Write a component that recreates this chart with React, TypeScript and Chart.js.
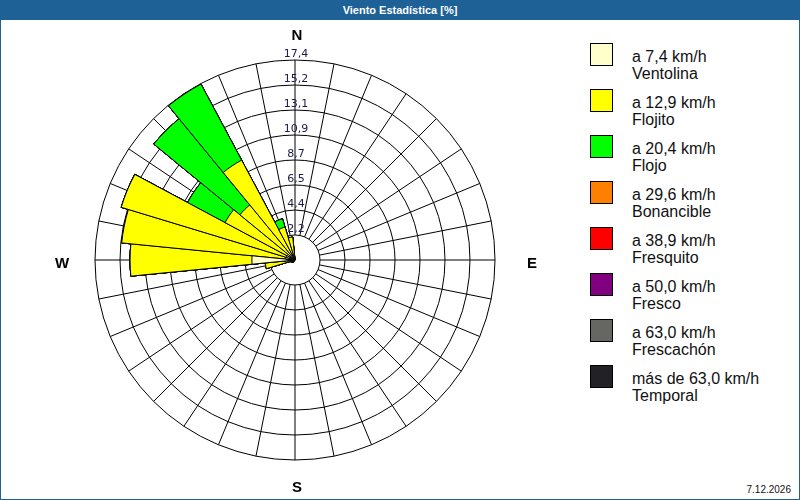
import { useEffect, useRef } from "react";
import { Chart, registerables } from "chart.js";

Chart.register(...registerables);

// 32 directions, clockwise from north
const DIRECTIONS = [
  "N", "NpE", "NNE", "NEpN", "NE", "NEpE", "ENE", "EpN",
  "E", "EpS", "ESE", "SEpE", "SE", "SEpS", "SSE", "SpE",
  "S", "SpO", "SSO", "SOpS", "SO", "SOpO", "OSO", "OpS",
  "O", "OpN", "ONO", "NOpO", "NO", "NOpN", "NNO", "NpO",
];

// frequency [%] per speed class and direction
const VENTOLINA = [
  0, 0, 0, 0, 0, 0, 0, 0, 0, 0, 0, 0, 0, 0, 0, 0,
  0, 0, 0, 0, 0.3, 0.3, 0.4, 0.6, 3.75, 0.8, 0.8, 0.6, 0.6, 0.6, 0.5, 0.4,
];
const FLOJITO = [
  0, 0, 0, 0, 0, 0, 0, 0, 0, 0, 0, 0, 0, 0, 0, 0,
  0, 0, 0, 0, 0, 0, 0, 2.0, 10.6, 14.35, 15.0, 6.3, 5.6, 9.25, 2.5, 1.6,
];
const FLOJO = [
  0, 0, 0, 0, 0, 0, 0, 0, 0, 0, 0, 0, 0, 0, 0, 0,
  0, 0, 0, 0, 0, 0, 0, 0, 0, 0, 0, 3.7, 9.7, 7.5, 0.75, 0,
];
const BONANCIBLE = [
  0, 0, 0, 0, 0, 0, 0, 0, 0, 0, 0, 0, 0, 0, 0, 0,
  0, 0, 0, 0, 0, 0, 0, 0, 0, 0, 0, 0, 0, 0, 0, 0,
];
const FRESQUITO = [
  0, 0, 0, 0, 0, 0, 0, 0, 0, 0, 0, 0, 0, 0, 0, 0,
  0, 0, 0, 0, 0, 0, 0, 0, 0, 0, 0, 0, 0, 0, 0, 0,
];
const FRESCO = [
  0, 0, 0, 0, 0, 0, 0, 0, 0, 0, 0, 0, 0, 0, 0, 0,
  0, 0, 0, 0, 0, 0, 0, 0, 0, 0, 0, 0, 0, 0, 0, 0,
];
const FRESCACHON = [
  0, 0, 0, 0, 0, 0, 0, 0, 0, 0, 0, 0, 0, 0, 0, 0,
  0, 0, 0, 0, 0, 0, 0, 0, 0, 0, 0, 0, 0, 0, 0, 0,
];
const TEMPORAL = [
  0, 0, 0, 0, 0, 0, 0, 0, 0, 0, 0, 0, 0, 0, 0, 0,
  0, 0, 0, 0, 0, 0, 0, 0, 0, 0, 0, 0, 0, 0, 0, 0,
];

const CLASS_RANGES = [
  "a 7,4 km/h", "a 12,9 km/h", "a 20,4 km/h", "a 29,6 km/h",
  "a 38,9 km/h", "a 50,0 km/h", "a 63,0 km/h", "más de 63,0 km/h",
];
const CLASS_NAMES = [
  "Ventolina", "Flojito", "Flojo", "Bonancible",
  "Fresquito", "Fresco", "Frescachón", "Temporal",
];
const CLASS_COLORS = [
  "#FFFFCC", "#FFFF00", "#00FF00", "#FF8000",
  "#FF0000", "#800080", "#666662", "#222226",
];
const SERIES = [VENTOLINA, FLOJITO, FLOJO, BONANCIBLE, FRESQUITO, FRESCO, FRESCACHON, TEMPORAL];

const R_MAX = 17.4;
const TICK_LABELS = ["2,2", "4,4", "6,5", "8,7", "10,9", "13,1", "15,2", "17,4"];
const COMPASS = ["N", "E", "S", "W"];

const BLUE = "#1d6196";

// rings, spokes and the text around the rose
const roseGrid = {
  id: "roseGrid",
  beforeDatasetsDraw(chart: any) {
    const s = chart.scales.r;
    const ctx = chart.ctx;
    const cx = s.xCenter;
    const cy = s.yCenter;
    const n = TICK_LABELS.length;
    ctx.save();
    ctx.strokeStyle = "#000";
    ctx.lineWidth = 1;
    for (let i = 0; i < n; i++) {
      const r = s.getDistanceFromCenterForValue((R_MAX * (i + 1)) / n);
      ctx.beginPath();
      ctx.arc(cx, cy, r, 0, Math.PI * 2);
      ctx.stroke();
    }
    const r1 = s.getDistanceFromCenterForValue(R_MAX / n);
    const r2 = s.getDistanceFromCenterForValue(R_MAX);
    for (let k = 0; k < DIRECTIONS.length; k++) {
      const a = (k * Math.PI * 2) / DIRECTIONS.length - Math.PI / 2;
      ctx.beginPath();
      ctx.moveTo(cx + r1 * Math.cos(a), cy + r1 * Math.sin(a));
      ctx.lineTo(cx + r2 * Math.cos(a), cy + r2 * Math.sin(a));
      ctx.stroke();
    }
    ctx.restore();
  },
  afterDatasetsDraw(chart: any) {
    const s = chart.scales.r;
    const ctx = chart.ctx;
    const cx = s.xCenter;
    const cy = s.yCenter;
    const n = TICK_LABELS.length;
    ctx.save();
    ctx.fillStyle = "#1b1b45";
    ctx.font = "11px 'DejaVu Sans'";
    ctx.textAlign = "center";
    ctx.textBaseline = "middle";
    TICK_LABELS.forEach((t, i) => {
      const r = s.getDistanceFromCenterForValue((R_MAX * (i + 1)) / n);
      ctx.fillText(t, cx + 1, cy - r - 6);
    });
    ctx.fillStyle = "#000";
    ctx.font = "bold 15px 'Liberation Sans'";
    const R = s.drawingArea;
    const pos = [
      [cx + 2, cy - R - 24],
      [cx + R + 37, cy + 4],
      [cx + 2, cy + R + 28],
      [cx - R - 33, cy + 4],
    ];
    COMPASS.forEach((c, i) => ctx.fillText(c, pos[i][0], pos[i][1]));
    ctx.restore();
  },
};

function RoseChart() {
  const canvasRef = useRef<HTMLCanvasElement>(null);

  useEffect(() => {
    if (!canvasRef.current) return;

    // stacked totals; first class drawn on top
    const cumulative: number[][] = [];
    SERIES.forEach((ser, i) => {
      cumulative.push(ser.map((v, k) => v + (i > 0 ? cumulative[i - 1][k] : 0)));
    });

    const chart = new Chart(canvasRef.current, {
      type: "polarArea",
      data: {
        labels: DIRECTIONS,
        datasets: cumulative.map((data, i) => ({
          label: CLASS_NAMES[i],
          data,
          backgroundColor: CLASS_COLORS[i],
          borderColor: "#000",
          borderWidth: 1,
        })),
      },
      options: {
        animation: false,
        responsive: false,
        maintainAspectRatio: false,
        layout: { padding: { left: 54, right: 56, top: 38, bottom: 38 } },
        plugins: {
          legend: { display: false },
          tooltip: { enabled: false },
        },
        scales: {
          r: {
            min: 0,
            max: R_MAX,
            startAngle: -180 / DIRECTIONS.length,
            ticks: { display: false },
            grid: { display: false },
            angleLines: { display: false },
            pointLabels: { display: false },
          },
        },
      },
      plugins: [roseGrid],
    });

    return () => chart.destroy();
  }, []);

  return (
    <canvas
      ref={canvasRef}
      width={510}
      height={476}
      style={{ position: "absolute", left: 40, top: 22, width: 510, height: 476 }}
    />
  );
}

export default function App() {
  return (
    <div
      style={{
        position: "fixed",
        left: 0,
        top: 0,
        width: 800,
        height: 500,
        boxSizing: "border-box",
        border: `1px solid ${BLUE}`,
        borderTop: "none",
        background: "#fff",
        fontFamily: "'Liberation Sans', sans-serif",
      }}
    >
      <div
        style={{
          height: 20,
          background: BLUE,
          color: "#fff",
          textAlign: "center",
          fontFamily: "'Liberation Sans Narrow', 'Liberation Sans', sans-serif",
          fontWeight: "bold",
          fontSize: 11,
          lineHeight: "20px",
          margin: "0 -1px",
        }}
      >
        Viento Estadística [%]
      </div>
      <RoseChart />
      {CLASS_NAMES.map((name, i) => (
        <div key={name}>
          <div
            style={{
              position: "absolute",
              left: 589,
              top: 43 + 46 * i,
              width: 21,
              height: 21,
              border: "1px solid #000",
              background: CLASS_COLORS[i],
            }}
          />
          <div
            style={{
              position: "absolute",
              left: 631,
              top: 48 + 46 * i,
              fontSize: 16,
              lineHeight: "17px",
              color: "#111",
              whiteSpace: "nowrap",
            }}
          >
            {CLASS_RANGES[i]}
            <br />
            {name}
          </div>
        </div>
      ))}
      <div
        style={{
          position: "absolute",
          right: 8,
          top: 484,
          fontSize: 10,
          lineHeight: "12px",
          color: "#111",
        }}
      >
        7.12.2026
      </div>
    </div>
  );
}
